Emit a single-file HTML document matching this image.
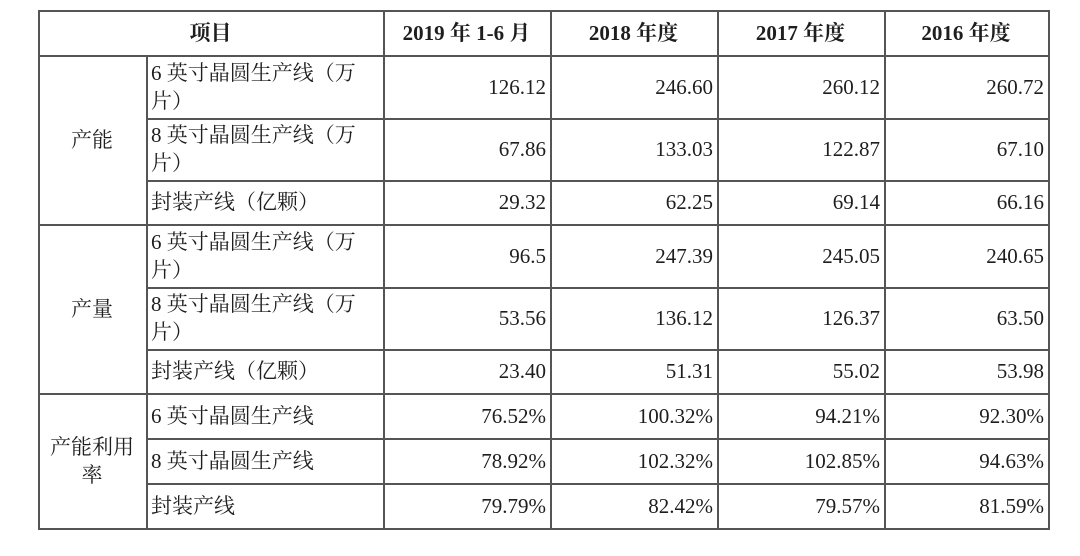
<!DOCTYPE html>
<html><head><meta charset="utf-8">
<style>
html,body{margin:0;padding:0;background:#fff;}
body{width:1080px;height:556px;position:relative;overflow:hidden;font-family:"Liberation Serif","Noto Serif CJK SC",serif;color:#1e1e1e;}
.c{position:absolute;box-sizing:border-box;display:flex;align-items:center;font-size:21px;line-height:28px;}
.h{font-weight:bold;justify-content:center;font-size:21px;}
.g{justify-content:center;text-align:center;padding:0 8px;}
.l{padding-left:5px;padding-right:4px;}
.v{justify-content:flex-end;padding-right:4px;}
.ln{position:absolute;background:#555;}
</style></head>
<body>
<div id="t"></div>
<script>
const colX=[38,146,383,550,717,884,1048];
const rowY=[10,55,118,180,224,287,349,393,438,483,528];
const headers=["项目","2019 年 1-6 月","2018 年度","2017 年度","2016 年度"];
const groups=[["产能",0,3],["产量",3,6],["产能利用率",6,9]];
const items=["6 英寸晶圆生产线（万片）","8 英寸晶圆生产线（万片）","封装产线（亿颗）","6 英寸晶圆生产线（万片）","8 英寸晶圆生产线（万片）","封装产线（亿颗）","6 英寸晶圆生产线","8 英寸晶圆生产线","封装产线"];
const v2019=["126.12","67.86","29.32","96.5","53.56","23.40","76.52%","78.92%","79.79%"];
const v2018=["246.60","133.03","62.25","247.39","136.12","51.31","100.32%","102.32%","82.42%"];
const v2017=["260.12","122.87","69.14","245.05","126.37","55.02","94.21%","102.85%","79.57%"];
const v2016=["260.72","67.10","66.16","240.65","63.50","53.98","92.30%","94.63%","81.59%"];
const t=document.getElementById('t');
function cell(cls,x1,x2,y1,y2,txt){const d=document.createElement('div');d.className='c '+cls;d.style.left=x1+'px';d.style.width=(x2-x1)+'px';d.style.top=y1+'px';d.style.height=(y2-y1)+'px';const s=document.createElement('span');s.textContent=txt;d.appendChild(s);t.appendChild(d);return d;}
function line(x,y,w,h){const d=document.createElement('div');d.className='ln';d.style.left=x+'px';d.style.top=y+'px';d.style.width=w+'px';d.style.height=h+'px';


t.appendChild(d);}
// header
let hc=cell('h',colX[0],colX[2],rowY[0],rowY[1],headers[0]);


for(let i=1;i<5;i++){const d=cell('h',colX[i+1],colX[i+2],rowY[0],rowY[1],headers[i]);

}
groups.forEach(g=>{const d=cell('g',colX[0],colX[1],rowY[g[1]+1],rowY[g[2]+1],g[0]);

});
const vals=[v2019,v2018,v2017,v2016];
for(let r=0;r<9;r++){
 const d=cell('l',colX[1],colX[2],rowY[r+1],rowY[r+2],items[r]);
 
 
 for(let k=0;k<4;k++){const e=cell('v',colX[k+2],colX[k+3],rowY[r+1],rowY[r+2],vals[k][r]);
 
 }
}
// lines
const W=colX[6]-colX[0];
line(colX[0],rowY[0],W+1,1.5);line(colX[0],rowY[1],W+1,1.5);line(colX[0],rowY[10],W+1,1.5);
for(let r=2;r<10;r++){const x=(r===4||r===7)?colX[0]:colX[1];line(x,rowY[r],colX[6]-x+1,1.5);}
line(colX[0],rowY[0],1.5,rowY[10]-rowY[0]);line(colX[6],rowY[0],1.5,rowY[10]-rowY[0]+1.5);
line(colX[1],rowY[1],1.5,rowY[10]-rowY[1]);
for(let i=2;i<6;i++)line(colX[i],rowY[0],1.5,rowY[10]-rowY[0]);
</script>
</body></html>
